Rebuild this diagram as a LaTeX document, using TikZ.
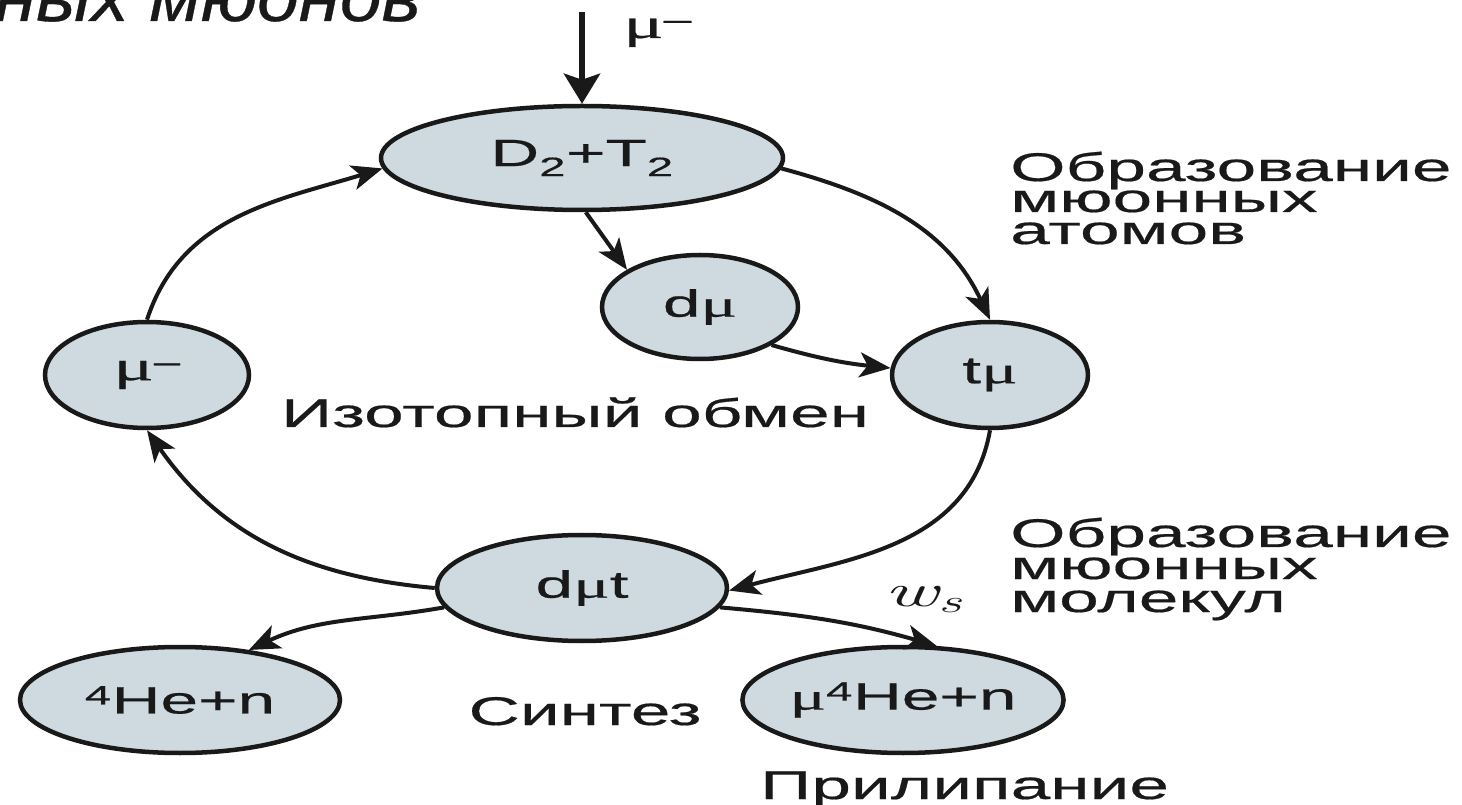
\documentclass[tikz,border=0pt]{standalone}
\usepackage{fontspec}
\usepackage{graphicx}
\usetikzlibrary{shapes.geometric,arrows.meta}
\setmainfont{Liberation Sans}[FakeStretch=1.78,FakeBold=0.5]
\newfontfamily\muf{Liberation Serif}[FakeStretch=1.8,FakeBold=0.5]
\newfontfamily\titlef{Liberation Sans}[FakeStretch=1.07,FakeBold=0.5]
\newfontfamily\lmr{Latin Modern Roman}[FakeStretch=1.8]
\definecolor{fillc}{RGB}{206,218,224}
\definecolor{ink}{RGB}{25,25,25}
\tikzset{
 blob/.style={ellipse, draw=ink, line width=4.5pt, fill=fillc, inner sep=0pt, text=ink, font=\fontsize{38}{40}\selectfont},
 conn/.style={draw=ink, line width=4pt, -{Stealth[length=31pt,width=25pt,inset=8pt]}},
 lbl/.style={text=ink, font=\fontsize{40}{40}\selectfont, inner sep=0pt, anchor=base west},
}
\begin{document}
\begin{tikzpicture}[x=1pt,y=1pt]
\useasboundingbox (0,0) rectangle (1462,804);
\node[anchor=base east, inner sep=0pt, text=ink, font=\titlef\itshape\fontsize{70}{70}\selectfont] (title) at (421,783) {ных мюонов};
\node[blob, minimum width=402pt, minimum height=104pt] (d2t2) at (582,646) {D\textsubscript{2}+T\textsubscript{2}};
\node[blob, minimum width=196pt, minimum height=104pt] (dmu) at (700,497) {d{\muf μ}};
\node[blob, minimum width=196pt, minimum height=106pt] (tmu) at (990,429) {t{\muf μ}};
\node[blob, minimum width=204pt, minimum height=106pt] (mum) at (147,429) {{\muf\fontsize{42}{42}\selectfont μ}\textsuperscript{–}};
\node[blob, minimum width=290pt, minimum height=106pt] (dmut) at (582,216) {d{\muf μ}t};
\node[blob, minimum width=320pt, minimum height=106pt] (he) at (180,104) {\textsuperscript{4}He+n};
\node[blob, minimum width=316pt, minimum height=106pt] (muhe) at (903,104) {{\muf μ}\textsuperscript{4}He+n};
\coordinate (topin) at (582,792);
\draw[draw=ink, line width=6pt, -{Stealth[length=30pt,width=36pt,inset=6pt]}] (topin) -- (d2t2.north);
\node[anchor=base west, inner sep=0pt, text=ink, font=\fontsize{40}{40}\selectfont] (mutop) at (623,766) {{\muf\fontsize{42}{42}\selectfont μ}\textsuperscript{–}};
\draw[conn] (mum.north) to[out=72, in=197] (d2t2.183);
\draw[conn] (d2t2.-3) to[out=-15, in=115] (tmu.north);
\draw[conn] (d2t2.274) -- (dmu.153);
\draw[conn] (dmu.-28) to[bend right=5] (tmu.176);
\draw[conn] (tmu.south) to[out=-100, in=15] (dmut.-1);
\draw[conn] (dmut.180) to[out=175, in=-55] (mum.south);
\draw[conn] (dmut.188) to[out=190, in=25] (he.36);
\draw[conn] (dmut.-8) to[out=-5, in=164] (muhe.58);
\node[lbl] (oa1) at (1010,623) {Образование};
\node[lbl] (oa2) at (1010,592) {мюонных};
\node[lbl] (oa3) at (1010,560) {атомов};
\node[lbl] (om1) at (1010,257) {Образование};
\node[lbl] (om2) at (1010,225) {мюонных};
\node[lbl] (om3) at (1010,192) {молекул};
\node[lbl, anchor=base] (iso) at (575,377) {Изотопный обмен};
\node[lbl, anchor=base] (syn) at (585,79) {Синтез};
\node[lbl] (pril) at (760,5) {Прилипание};
\node[anchor=base west, inner sep=0pt, text=ink, font=\lmr\itshape\fontsize{46}{46}\selectfont] (ws) at (884,197) {w\textsubscript{s}};
\end{tikzpicture}
\end{document}
